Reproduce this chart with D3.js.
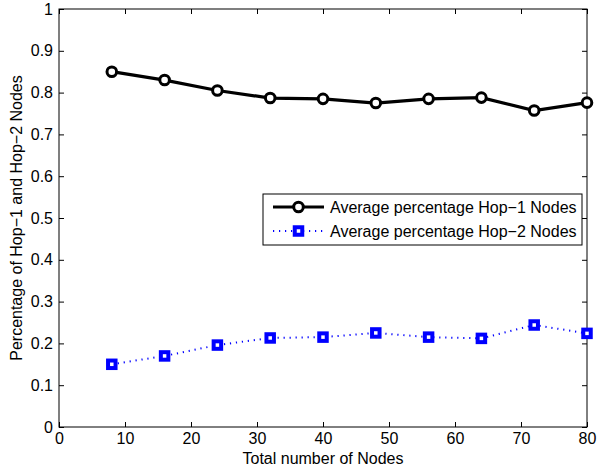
<!DOCTYPE html>
<html>
<head>
<meta charset="utf-8">
<script src="https://cdn.jsdelivr.net/npm/d3@7"></script>
<style>
  body { margin: 0; background: #fff; }
  text { font-family: "Liberation Sans", Arial, sans-serif; }
</style>
</head>
<body>
<div class="canva"></div>
<script>
const nodes = [8, 16, 24, 32, 40, 48, 56, 64, 72, 80];
const hop1 = [0.850, 0.830, 0.805, 0.787, 0.785, 0.775, 0.785, 0.788, 0.757, 0.776];
const hop2 = [0.150, 0.170, 0.196, 0.213, 0.215, 0.225, 0.215, 0.212, 0.244, 0.224];
const xTicks = [0, 10, 20, 30, 40, 50, 60, 70, 80];
const yTicks = [0, 0.1, 0.2, 0.3, 0.4, 0.5, 0.6, 0.7, 0.8, 0.9, 1];
const labels = ["Average percentage Hop\u22121 Nodes", "Average percentage Hop\u22122 Nodes"];

const width = 597, height = 470;
const mLeft = 59, mRight = 587, mTop = 9, mBottom = 427;
const fs = 16;

const svg = d3.select(".canva").append("svg")
    .attr("width", width)
    .attr("height", height);

const x = d3.scaleLinear().domain([0, 80]).range([mLeft, mRight]);
const y = d3.scaleLinear().domain([0, 1]).range([mBottom, mTop]);

//axes box
svg.append("rect")
    .attr("x", mLeft).attr("y", mTop)
    .attr("width", mRight - mLeft).attr("height", mBottom - mTop)
    .attr("fill", "none").attr("stroke", "#000").attr("stroke-width", 1);

const fmt = d => d === 0 ? "0" : (d === 1 ? "1" : d3.format(".1f")(d));

const xAxis = svg.append("g").attr("transform", `translate(0,${mBottom})`)
    .call(d3.axisBottom(x).tickValues(xTicks).tickSizeInner(-5).tickSizeOuter(0).tickPadding(6));
const xTop = svg.append("g").attr("transform", `translate(0,${mTop})`)
    .call(d3.axisTop(x).tickValues(xTicks).tickSizeInner(-5).tickSizeOuter(0).tickFormat(""));
const yAxis = svg.append("g").attr("transform", `translate(${mLeft},0)`)
    .call(d3.axisLeft(y).tickValues(yTicks).tickSizeInner(-5).tickSizeOuter(0).tickPadding(6).tickFormat(fmt));
const yRight = svg.append("g").attr("transform", `translate(${mRight},0)`)
    .call(d3.axisRight(y).tickValues(yTicks).tickSizeInner(-5).tickSizeOuter(0).tickFormat(""));

[xAxis, xTop, yAxis, yRight].forEach(g => {
    g.select(".domain").remove();
    g.selectAll("line").attr("stroke", "#000");
    g.selectAll("text").attr("fill", "#000").attr("font-size", fs)
        .style("font-family", "'Liberation Sans', Arial, sans-serif");
});

svg.append("text")
    .attr("x", (mLeft + mRight) / 2).attr("y", 464)
    .attr("text-anchor", "middle").attr("font-size", fs)
    .text("Total number of Nodes");

svg.append("text")
    .attr("transform", `translate(22,${(mTop + mBottom) / 2}) rotate(-90)`)
    .attr("text-anchor", "middle").attr("font-size", fs)
    .text("Percentage of Hop\u22121 and Hop\u22122 Nodes");

const line = d3.line().x(d => x(d[0])).y(d => y(d[1]));
const d1 = nodes.map((n, i) => [n, hop1[i]]);
const d2 = nodes.map((n, i) => [n, hop2[i]]);

//Hop-2 dotted blue
svg.append("path").datum(d2)
    .attr("d", line).attr("fill", "none")
    .attr("stroke", "#0000ff").attr("stroke-width", 2)
    .attr("stroke-dasharray", "1.2,4.8");

svg.selectAll(".sq").data(d2).enter()
    .append("rect")
    .attr("x", d => x(d[0]) - 3.75).attr("y", d => y(d[1]) - 3.75)
    .attr("width", 7.5).attr("height", 7.5)
    .attr("fill", "#fff").attr("stroke", "#0000ff").attr("stroke-width", 4);

//Hop-1 solid black
svg.append("path").datum(d1)
    .attr("d", line).attr("fill", "none")
    .attr("stroke", "#000").attr("stroke-width", 3.2);

svg.selectAll(".ci").data(d1).enter()
    .append("circle")
    .attr("cx", d => x(d[0])).attr("cy", d => y(d[1]))
    .attr("r", 4.8).attr("fill", "#fff")
    .attr("stroke", "#000").attr("stroke-width", 3);

//legend
const lg = svg.append("g");
lg.append("rect")
    .attr("x", 263).attr("y", 194).attr("width", 319).attr("height", 51)
    .attr("fill", "#fff").attr("stroke", "#000").attr("stroke-width", 1);

lg.append("line").attr("x1", 273).attr("x2", 324).attr("y1", 207).attr("y2", 207)
    .attr("stroke", "#000").attr("stroke-width", 3.2);
lg.append("circle").attr("cx", 298.5).attr("cy", 207).attr("r", 4.8)
    .attr("fill", "#fff").attr("stroke", "#000").attr("stroke-width", 3);

lg.append("line").attr("x1", 273).attr("x2", 324).attr("y1", 231).attr("y2", 231)
    .attr("stroke", "#0000ff").attr("stroke-width", 2).attr("stroke-dasharray", "1.2,4.8");
lg.append("rect").attr("x", 294.75).attr("y", 227.25).attr("width", 7.5).attr("height", 7.5)
    .attr("fill", "#fff").attr("stroke", "#0000ff").attr("stroke-width", 4);

lg.selectAll(".lt").data(labels).enter()
    .append("text")
    .attr("x", 330).attr("y", (d, i) => 207 + i * 24)
    .attr("dy", "0.35em").attr("font-size", fs)
    .text(d => d);
</script>
</body>
</html>
